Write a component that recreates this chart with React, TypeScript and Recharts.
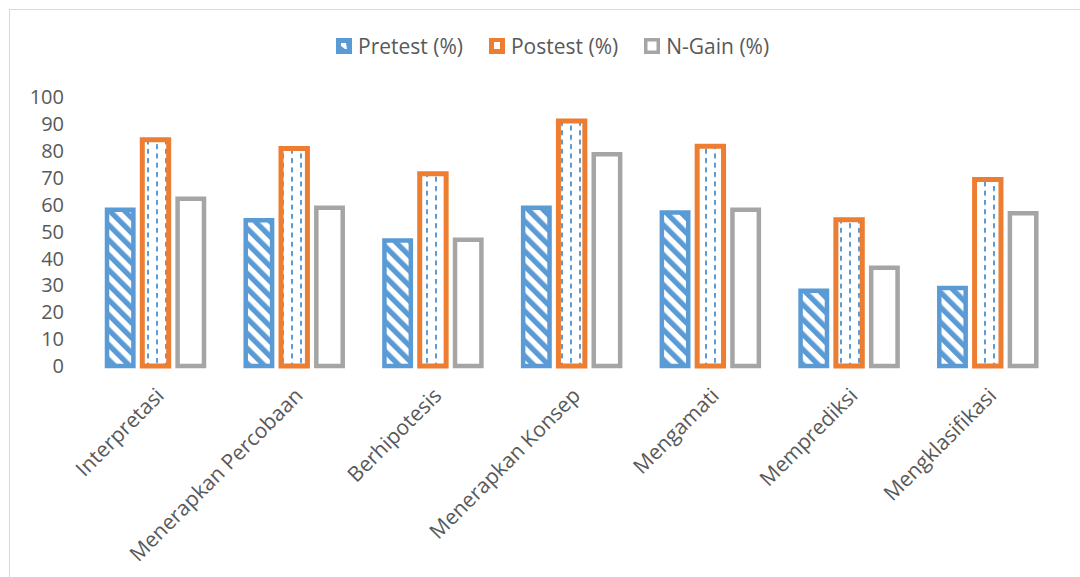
import React from "react";
import { Bar, BarChart, XAxis, YAxis } from "recharts";

const categories = [
  "Interpretasi",
  "Menerapkan Percobaan",
  "Berhipotesis",
  "Menerapkan Konsep",
  "Mengamati",
  "Memprediksi",
  "Mengklasifikasi",
];
const pretest = [58.1, 54.2, 46.7, 58.8, 57.1, 28.0, 29.0];
const postest = [84.1, 80.9, 71.5, 91.1, 81.7, 54.4, 69.3];
const nGain = [62.2, 58.8, 46.9, 78.7, 58.1, 36.5, 56.8];
const yTicks = [0, 10, 20, 30, 40, 50, 60, 70, 80, 90, 100];

const seriesNames = ["Pretest (%)", "Postest (%)", "N-Gain (%)"];

const BLUE = "#5B9BD5";
const ORANGE = "#ED7D31";
const GRAY = "#A5A5A5";
const TEXT = "#595959";
const FONT = "'Open Sans', 'Liberation Sans', sans-serif";

const data = categories.map((name, i) => ({
  name,
  pretest: pretest[i],
  postest: postest[i],
  nGain: nGain[i],
}));

function CategoryTick(props: any) {
  const { x, y, payload } = props;
  const ax = x + 10;
  const ay = y + 23;
  return (
    <text
      x={ax}
      y={ay}
      transform={`rotate(-45, ${ax}, ${ay})`}
      textAnchor="end"
      fill={TEXT}
      fontSize={21}
      fontFamily={FONT}
    >
      {payload.value}
    </text>
  );
}

function LegendIcon({ kind }: { kind: number }) {
  if (kind === 0) {
    return (
      <svg width={16} height={16}>
        <rect x={0} y={0} width={16} height={16} fill={BLUE} />
        <polygon points="5,5 10,5 11,11 9,11 5,8" fill="#fff" />
      </svg>
    );
  }
  if (kind === 1) {
    return (
      <svg width={16} height={16}>
        <rect x={0} y={0} width={16} height={16} fill={ORANGE} />
        <rect x={5} y={4} width={6} height={7} fill="#fff" />
      </svg>
    );
  }
  return (
    <svg width={16} height={16}>
      <rect x={0} y={0} width={16} height={16} fill={GRAY} />
      <rect x={3.5} y={3.5} width={9} height={9} fill="#fff" />
    </svg>
  );
}

function ChartLegend() {
  return (
    <div
      style={{
        position: "absolute",
        left: 336,
        top: 34,
        display: "flex",
        alignItems: "center",
        fontFamily: FONT,
      }}
    >
      {seriesNames.map((s, i) => (
        <div
          key={s}
          style={{ display: "flex", alignItems: "center", marginRight: 26 }}
        >
          <LegendIcon kind={i} />
          <span
            style={{
              marginLeft: 6,
              fontSize: 21,
              color: TEXT,
              lineHeight: "24px",
            }}
          >
            {s}
          </span>
        </div>
      ))}
    </div>
  );
}

export default function App() {
  return (
    <div
      style={{
        position: "absolute",
        left: 0,
        top: 0,
        width: 1080,
        height: 577,
        background: "#fff",
        overflow: "hidden",
      }}
    >
      <div
        style={{
          position: "absolute",
          left: 9,
          top: 9,
          width: 1300,
          height: 800,
          border: "1px solid #d9d9d9",
        }}
      />
      <BarChart
        width={1080}
        height={577}
        data={data}
        margin={{ top: 97, right: 23, bottom: 31, left: 26 }}
        barSize={26.4}
        barGap={8.9}
      >
        <defs>
          <pattern
            id="hatch"
            patternUnits="userSpaceOnUse"
            width={10.6}
            height={10.6}
            patternTransform="rotate(-45)"
          >
            <rect x={0} y={0} width={10.6} height={10.6} fill="#fff" />
            <rect x={0} y={0} width={5.3} height={10.6} fill={BLUE} />
          </pattern>
          <pattern
            id="dashvert"
            patternUnits="userSpaceOnUse"
            width={18}
            height={9.3}
          >
            <rect x={0} y={0} width={18} height={9.3} fill="#fff" />
            <rect x={3} y={0} width={2} height={5} fill={BLUE} />
            <rect x={12} y={4.65} width={2} height={4.65} fill={BLUE} />
            <rect x={12} y={0} width={2} height={0.35} fill={BLUE} />
          </pattern>
        </defs>
        <XAxis
          dataKey="name"
          interval={0}
          axisLine={false}
          tickLine={false}
          height={180}
          tick={<CategoryTick />}
        />
        <YAxis
          domain={[0, 100]}
          ticks={yTicks}
          interval={0}
          width={60}
          axisLine={false}
          tickLine={false}
          tickMargin={16}
          tick={{ fill: TEXT, fontSize: 20, fontFamily: FONT }}
        />
        <Bar
          dataKey="pretest"
          name={seriesNames[0]}
          fill="url(#hatch)"
          stroke={BLUE}
          strokeWidth={4.5}
          isAnimationActive={false}
        />
        <Bar
          dataKey="postest"
          name={seriesNames[1]}
          fill="url(#dashvert)"
          stroke={ORANGE}
          strokeWidth={5}
          isAnimationActive={false}
        />
        <Bar
          dataKey="nGain"
          name={seriesNames[2]}
          fill="#fff"
          stroke={GRAY}
          strokeWidth={4.5}
          isAnimationActive={false}
        />
      </BarChart>
      <ChartLegend />
    </div>
  );
}
